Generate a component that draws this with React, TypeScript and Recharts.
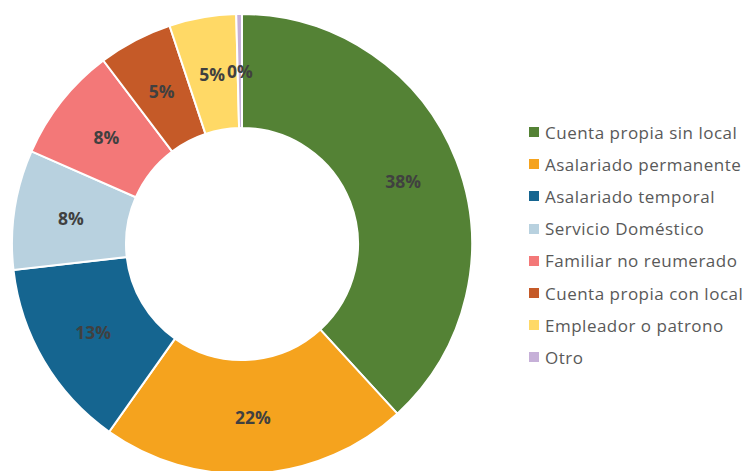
import { PieChart, Pie, Cell, Legend } from "recharts";

const categories = [
  "Cuenta propia sin local",
  "Asalariado permanente",
  "Asalariado temporal",
  "Servicio Doméstico",
  "Familiar no reumerado",
  "Cuenta propia con local",
  "Empleador o patrono",
  "Otro",
];

const shares = [38.2, 21.6, 13.4, 8.4, 8.1, 5.2, 4.7, 0.4];

const colors = [
  "#548235",
  "#F5A31E",
  "#156590",
  "#B8D1DF",
  "#F37878",
  "#C55A28",
  "#FFD966",
  "#C6B0D8",
];

const data = categories.map((name, i) => ({ name, value: shares[i] }));

const RADIAN = Math.PI / 180;

function renderLabel(props: any) {
  const { cx, cy, midAngle, innerRadius, outerRadius, percent } = props;
  const r = (innerRadius + outerRadius) / 2;
  const x = cx + r * Math.cos(-midAngle * RADIAN);
  const y = cy + r * Math.sin(-midAngle * RADIAN);
  return (
    <text
      x={x}
      y={y}
      fill="#404040"
      fontSize={17.5}
      fontWeight="bold"
      textAnchor="middle"
      dominantBaseline="central"
    >
      {`${Math.round(percent * 100)}%`}
    </text>
  );
}

function LegendList() {
  return (
    <div>
      {categories.map((name, i) => (
        <div
          key={name}
          style={{ display: "flex", alignItems: "center", height: 32.2 }}
        >
          <span
            style={{
              width: 10,
              height: 10,
              background: colors[i],
              marginRight: 6,
              flexShrink: 0,
            }}
          />
          <span
            style={{
              color: "#595959",
              fontSize: 17,
              letterSpacing: 0.5,
              whiteSpace: "nowrap",
            }}
          >
            {name}
          </span>
        </div>
      ))}
    </div>
  );
}

export default function App() {
  return (
    <div
      style={{
        position: "absolute",
        left: 0,
        top: 0,
        fontFamily: "'Open Sans', sans-serif",
        background: "#fff",
      }}
    >
      <PieChart
        width={745}
        height={471}
        margin={{ top: 0, right: 0, bottom: 0, left: 0 }}
      >
        <Pie
          data={data}
          dataKey="value"
          nameKey="name"
          cx={242}
          cy={244}
          innerRadius={116}
          outerRadius={230}
          startAngle={90}
          endAngle={-270}
          stroke="#fff"
          strokeWidth={2}
          label={renderLabel}
          labelLine={false}
          isAnimationActive={false}
        >
          {data.map((d, i) => (
            <Cell key={d.name} fill={colors[i]} />
          ))}
        </Pie>
        <Legend
          layout="vertical"
          content={() => <LegendList />}
          wrapperStyle={{ left: 529, top: 116, width: 216, bottom: "auto" }}
        />
      </PieChart>
    </div>
  );
}
